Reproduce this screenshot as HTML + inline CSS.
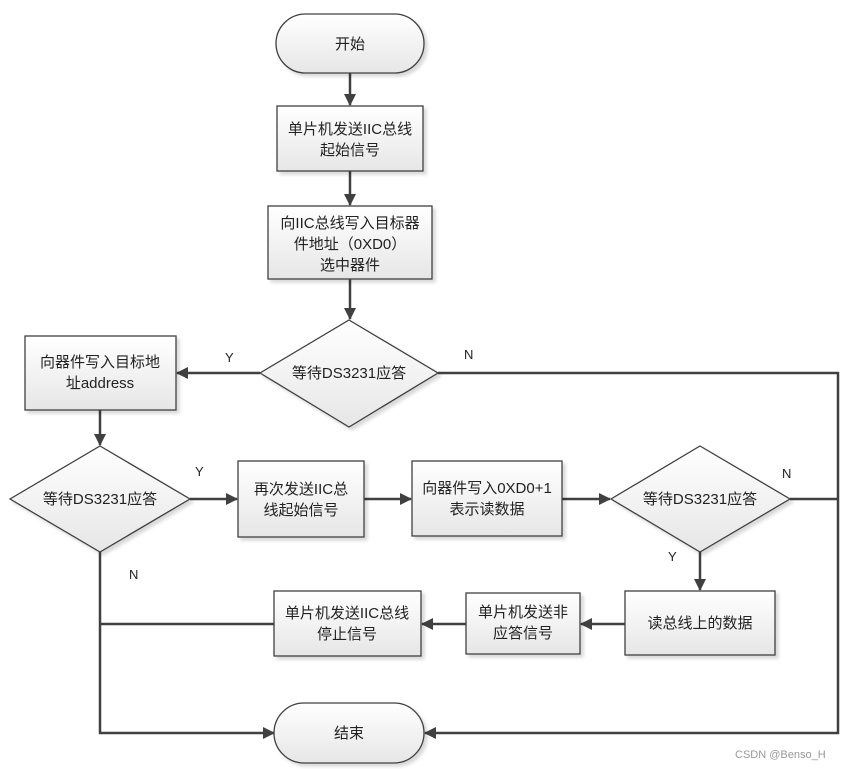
<!DOCTYPE html>
<html><head><meta charset="utf-8"><style>
html,body{margin:0;padding:0;background:#fff;}
svg{display:block;}
text{font-family:"Liberation Sans","Noto Sans CJK SC",sans-serif;font-size:15px;fill:#222;}
</style></head><body>
<svg width="849" height="769" viewBox="0 0 849 769" xmlns="http://www.w3.org/2000/svg">
<defs>
<linearGradient id="g" x1="0" y1="0" x2="0" y2="1"><stop offset="0" stop-color="#ffffff"/><stop offset="1" stop-color="#e6e6e6"/></linearGradient>
<marker id="a" markerWidth="12" markerHeight="12" refX="11" refY="6" orient="auto" markerUnits="userSpaceOnUse"><path d="M0,0 L12,6 L0,12 Z" fill="#404040"/></marker>
<filter id="s" x="-10%" y="-10%" width="130%" height="130%"><feDropShadow dx="3" dy="3" stdDeviation="1.5" flood-color="#000" flood-opacity="0.15"/></filter>
</defs>
<g stroke="#404040" stroke-width="2.5" fill="none">
<line x1="350" y1="73" x2="350" y2="105" marker-end="url(#a)"/>
<line x1="350" y1="171" x2="350" y2="205" marker-end="url(#a)"/>
<line x1="350" y1="279" x2="350" y2="319" marker-end="url(#a)"/>
<line x1="260" y1="373" x2="177" y2="373" marker-end="url(#a)"/>
<line x1="100" y1="410" x2="100" y2="445" marker-end="url(#a)"/>
<line x1="190" y1="499" x2="237" y2="499" marker-end="url(#a)"/>
<line x1="364" y1="499" x2="411" y2="499" marker-end="url(#a)"/>
<line x1="562" y1="499" x2="610" y2="499" marker-end="url(#a)"/>
<line x1="700" y1="552" x2="700" y2="590" marker-end="url(#a)"/>
<line x1="625" y1="624" x2="581" y2="624" marker-end="url(#a)"/>
<line x1="466" y1="624" x2="422" y2="624" marker-end="url(#a)"/>
<line x1="274" y1="624" x2="100" y2="624"/>
<polyline points="100,552 100,733 274,733" marker-end="url(#a)"/>
<polyline points="438,373 838,373 838,733 425,733" marker-end="url(#a)"/>
<line x1="790" y1="499" x2="838" y2="499"/>
</g>
<g stroke="#404040" stroke-width="1.3" fill="url(#g)" filter="url(#s)">
<rect x="276" y="14" width="148" height="59" rx="29.5"/>
<rect x="277" y="106" width="146" height="65"/>
<rect x="268" y="206" width="164" height="73"/>
<polygon points="349,320 438,373 349,427 260,373"/>
<rect x="25" y="336" width="151" height="74"/>
<polygon points="100,446 190,499 100,552 10,499"/>
<rect x="238" y="461" width="126" height="76"/>
<rect x="412" y="461" width="150" height="75"/>
<polygon points="700,446 790,499 700,552 611,499"/>
<rect x="625" y="591" width="150" height="64"/>
<rect x="466" y="593" width="114" height="61"/>
<rect x="274" y="591" width="147" height="65"/>
<rect x="274" y="703" width="150" height="60" rx="30"/>
</g>
<g text-anchor="middle">
<text x="350" y="49">开始</text>
<text x="350" y="134">单片机发送IIC总线</text>
<text x="350" y="155">起始信号</text>
<text x="350" y="228">向IIC总线写入目标器</text>
<text x="350" y="249">件地址（0XD0）</text>
<text x="350" y="270">选中器件</text>
<text x="349" y="378">等待DS3231应答</text>
<text x="100" y="367">向器件写入目标地</text>
<text x="100" y="388">址address</text>
<text x="100" y="504">等待DS3231应答</text>
<text x="301" y="494">再次发送IIC总</text>
<text x="301" y="515">线起始信号</text>
<text x="487" y="493">向器件写入0XD0+1</text>
<text x="487" y="514">表示读数据</text>
<text x="700" y="504">等待DS3231应答</text>
<text x="700" y="628">读总线上的数据</text>
<text x="523" y="617">单片机发送非</text>
<text x="523" y="638">应答信号</text>
<text x="347" y="618">单片机发送IIC总线</text>
<text x="347" y="639">停止信号</text>
<text x="349" y="738">结束</text>
</g>
<g font-size="13">
<text x="225" y="362" style="font-size:13px">Y</text>
<text x="464" y="359" style="font-size:13px">N</text>
<text x="195" y="476" style="font-size:13px">Y</text>
<text x="782" y="478" style="font-size:13px">N</text>
<text x="668" y="561" style="font-size:13px">Y</text>
<text x="129" y="579" style="font-size:13px">N</text>
</g>
<text x="735" y="758" style="font-size:11px;fill:#999">CSDN @Benso_H</text>
</svg>
</body></html>
